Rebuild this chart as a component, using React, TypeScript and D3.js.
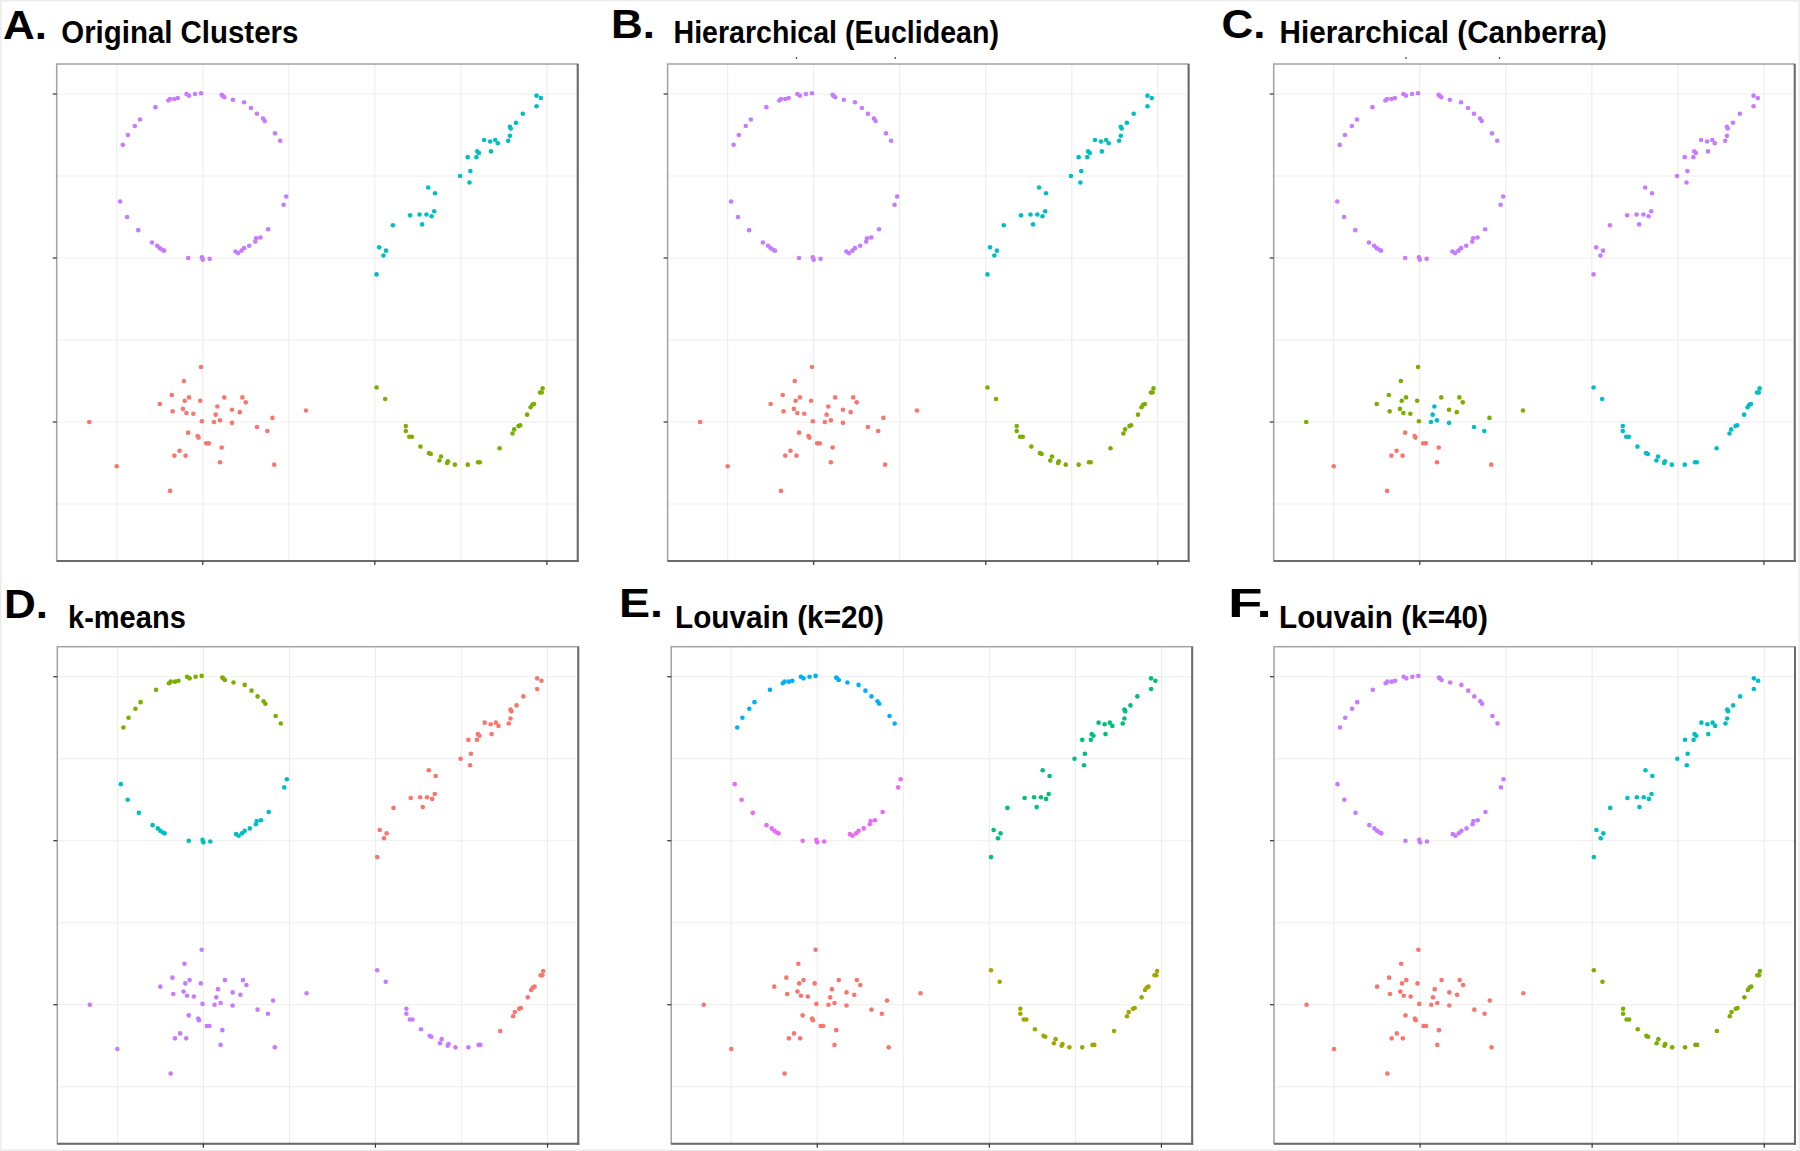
import React from 'react';
import * as d3 from 'd3';

// ---- data (data units) ----
const circleX = [-0.02,-0.09,-0.19,-0.16,-0.29,-0.33,-0.38,-0.40,-0.55,-0.73,-0.79,-0.87,-0.93,0.22,0.23,0.25,0.35,0.48,0.56,0.63,0.70,0.72,0.84,0.90,0.97,0.94,0.76,0.67,0.62,0.61,0.54,0.48,0.45,0.41,0.38,0.08,0.00,-0.01,-0.17,-0.45,-0.47,-0.50,-0.53,-0.59,-0.75,-0.88,-0.96];
const circleY = [4.01,4.00,4.00,3.98,3.95,3.94,3.94,3.92,3.84,3.69,3.61,3.50,3.38,3.99,3.98,3.96,3.93,3.90,3.83,3.76,3.70,3.67,3.52,3.43,2.75,2.65,2.35,2.25,2.24,2.20,2.15,2.12,2.09,2.06,2.08,1.99,1.98,2.01,2.00,2.09,2.10,2.12,2.15,2.19,2.34,2.50,2.69];

const lineX = [3.88,3.93,3.88,3.72,3.64,3.57,3.58,3.57,3.55,3.43,3.40,3.34,3.27,3.35,3.19,3.21,3.18,3.08,3.11,2.99,3.10,2.62,2.70,2.41,2.52,2.60,2.69,2.66,2.55,2.21,2.05,2.13,2.10,2.02];
const lineY = [3.98,3.95,3.85,3.76,3.65,3.60,3.58,3.49,3.43,3.40,3.44,3.42,3.44,3.30,3.30,3.28,3.23,3.23,3.06,3.00,2.92,2.86,2.79,2.52,2.53,2.53,2.57,2.51,2.41,2.40,2.13,2.09,2.03,1.80];

const blobX = [-0.02,-0.22,-0.36,-0.50,-0.21,-0.16,-0.03,-0.35,-0.23,-0.19,-0.11,0.25,0.17,0.15,0.46,0.50,0.34,0.43,-0.01,0.13,0.20,0.34,0.81,1.20,-1.32,-0.17,-0.06,-0.05,0.04,0.07,0.22,0.63,0.75,-0.27,-0.33,-0.20,0.20,0.83,-1.00,-0.38];
const blobY = [0.67,0.50,0.33,0.22,0.26,0.30,0.26,0.13,0.16,0.11,0.10,0.30,0.19,0.09,0.30,0.24,0.15,0.12,0.01,0.00,0.02,-0.01,0.05,0.14,0.00,-0.13,-0.17,-0.19,-0.26,-0.26,-0.31,-0.06,-0.11,-0.35,-0.41,-0.41,-0.49,-0.52,-0.54,-0.84];

const parabX = [2.02,2.12,2.36,2.36,2.40,2.43,2.53,2.63,2.65,2.77,2.75,2.84,2.85,2.93,3.08,3.20,3.22,3.45,3.60,3.62,3.67,3.69,3.77,3.81,3.83,3.85,3.92,3.94,3.95];
const parabY = [0.42,0.28,-0.05,-0.11,-0.18,-0.18,-0.30,-0.38,-0.39,-0.42,-0.47,-0.50,-0.48,-0.52,-0.52,-0.49,-0.49,-0.32,-0.14,-0.09,-0.05,-0.04,0.09,0.18,0.21,0.22,0.36,0.36,0.41];

// cluster labels that split a shape
const circleArc = [0,0,0,0,0,0,0,0,0,0,0,0,0,0,0,0,0,0,0,0,0,0,0,0,1,1,1,1,1,1,1,1,1,1,1,1,1,1,1,1,1,1,1,1,1,1,1];
const blobCanberra = [0,0,0,0,0,0,0,0,0,0,0,0,1,1,0,0,0,0,0,1,1,1,0,0,0,2,2,2,2,2,2,1,1,2,2,2,2,2,2,2];
const parabKmeans = [0,0,0,0,0,0,0,0,0,0,0,0,0,0,0,0,0,1,1,1,1,1,1,1,1,1,1,1,1];

const xTicks = [0, 2, 4];
const yTicks = [0, 2, 4];
const gridVals = [-1, 0, 1, 2, 3, 4];

const C4 = { red: '#F8766D', green: '#7CAE00', cyan: '#00BFC4', purple: '#C77CFF' };
const C5 = { red: '#F8766D', olive: '#A3A500', teal: '#00BF7D', blue: '#00B0F6', pink: '#E76BF3' };

type GroupColor = string | { labels: number[]; colors: string[] };

interface PanelDef {
  letter: string; title: string;
  left: number; top: number;
  lx: number; ly: number; tx: number; ty: number; tw: number;
  topTicks?: number[];
  circle: GroupColor; line: GroupColor; blob: GroupColor; parab: GroupColor;
}

const panels: PanelDef[] = [
  { letter: 'A.', title: 'Original Clusters', left: 56.7, top: 64, lx: 3, ly: 38.5, tx: 61.3, ty: 42.5, tw: 237,
    circle: C4.purple, line: C4.cyan, blob: C4.red, parab: C4.green },
  { letter: 'B.', title: 'Hierarchical (Euclidean)', left: 667.6, top: 64, lx: 611, ly: 38, tx: 673.5, ty: 42.5, tw: 325.4,
    topTicks: [128.9, 227.7],
    circle: C4.purple, line: C4.cyan, blob: C4.red, parab: C4.green },
  { letter: 'C.', title: 'Hierarchical (Canberra)', left: 1273.7, top: 64, lx: 1221.5, ly: 38, tx: 1279.6, ty: 42.5, tw: 327.4,
    topTicks: [132.3, 225.8],
    circle: C4.purple, line: C4.purple, blob: { labels: blobCanberra, colors: [C4.green, C4.cyan, C4.red] }, parab: C4.cyan },
  { letter: 'D.', title: 'k-means', left: 57.3, top: 646.7, lx: 4, ly: 618, tx: 68, ty: 628, tw: 117.8,
    circle: { labels: circleArc, colors: [C4.green, C4.cyan] }, line: C4.red, blob: C4.purple,
    parab: { labels: parabKmeans, colors: [C4.purple, C4.red] } },
  { letter: 'E.', title: 'Louvain (k=20)', left: 671.2, top: 646.7, lx: 619, ly: 617, tx: 675, ty: 628, tw: 209,
    circle: { labels: circleArc, colors: [C5.blue, C5.pink] }, line: C5.teal, blob: C5.red, parab: C5.olive },
  { letter: 'F.', title: 'Louvain (k=40)', left: 1274, top: 646.7, lx: 1228, ly: 617, tx: 1279, ty: 628, tw: 209,
    circle: C4.purple, line: C4.cyan, blob: C4.red, parab: C4.green },
];

const W = 521;
const H = 497;
const x = d3.scaleLinear().domain([-1.698, 4.358]).range([0, W]);
const y = d3.scaleLinear().domain([-1.695, 4.366]).range([H, 0]);

const groups: { key: 'circle' | 'line' | 'blob' | 'parab'; xs: number[]; ys: number[] }[] = [
  { key: 'circle', xs: circleX, ys: circleY },
  { key: 'line', xs: lineX, ys: lineY },
  { key: 'blob', xs: blobX, ys: blobY },
  { key: 'parab', xs: parabX, ys: parabY },
];

function colorAt(g: GroupColor, i: number): string {
  if (typeof g === 'string') return g;
  return g.colors[g.labels[i]];
}

function Panel({ p }: { p: PanelDef }) {
  return (
    <g transform={`translate(${p.left},${p.top})`}>
      <rect x={0} y={0} width={W} height={H} fill="#ffffff" />
      {gridVals.map((v) => (
        <line key={'gx' + v} x1={x(v)} x2={x(v)} y1={0} y2={H} stroke="#ededed" strokeWidth={1.1} />
      ))}
      {gridVals.map((v) => (
        <line key={'gy' + v} x1={0} x2={W} y1={y(v)} y2={y(v)} stroke="#ededed" strokeWidth={1.1} />
      ))}
      {groups.map((g) =>
        g.xs.map((xv, i) => (
          <circle key={g.key + i} cx={x(xv)} cy={y(g.ys[i])} r={2.3} fill={colorAt(p[g.key], i)} />
        ))
      )}
      <rect x={0} y={0} width={W} height={H} fill="none" stroke="#a2a2a2" strokeWidth={1.5} />
      <line x1={W} x2={W} y1={0} y2={H + 1} stroke="#6a6a6a" strokeWidth={2} />
      <line x1={0} x2={W + 1} y1={H} y2={H} stroke="#6a6a6a" strokeWidth={2} />
      {yTicks.map((v) => (
        <line key={'ty' + v} x1={-4} x2={0} y1={y(v)} y2={y(v)} stroke="#333" strokeWidth={1.2} />
      ))}
      {xTicks.map((v) => (
        <line key={'tx' + v} x1={x(v)} x2={x(v)} y1={H} y2={H + 4} stroke="#333" strokeWidth={1.2} />
      ))}
      {(p.topTicks || []).map((t, i) => (
        <line key={'tt' + i} x1={t} x2={t} y1={-7} y2={-5} stroke="#555" strokeWidth={1.3} />
      ))}
    </g>
  );
}

const FONT = "'Liberation Sans', Arial, Helvetica, sans-serif";

export default function App() {
  return (
    <svg width={1800} height={1151} viewBox="0 0 1800 1151"
      style={{ position: 'absolute', left: 0, top: 0, background: '#ffffff' }}>
      <rect x={0} y={0} width={1800} height={1151} fill="#ffffff" />
      <rect x={0.75} y={0.75} width={1798.5} height={1149.5} fill="none" stroke="#ececec" strokeWidth={1.5} />
      {panels.map((p) => (
        <g key={p.letter}>
          <Panel p={p} />
          <text x={p.lx} y={p.ly} fontFamily={FONT} fontWeight="bold" fontSize={41} fill="#000"
            textLength={44} lengthAdjust="spacingAndGlyphs">
            {p.letter}
          </text>
          <text x={p.tx} y={p.ty} fontFamily={FONT} fontWeight="bold" fontSize={31}
            fill="#000" textLength={p.tw} lengthAdjust="spacingAndGlyphs">
            {p.title}
          </text>
        </g>
      ))}
    </svg>
  );
}
